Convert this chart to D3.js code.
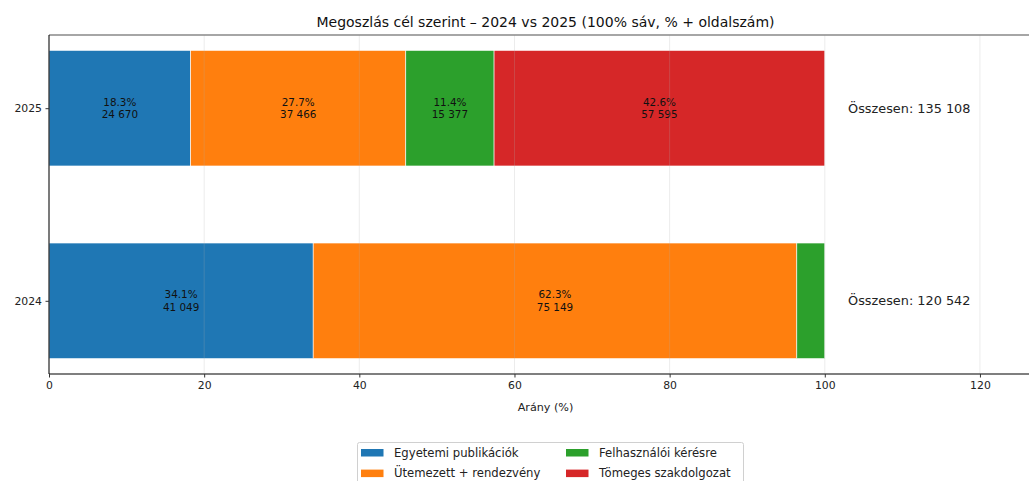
<!DOCTYPE html>
<html><head><meta charset="utf-8">
<script src="https://cdn.jsdelivr.net/npm/d3@7"></script>
<style>
body{margin:0;background:#fff;}
svg{font-family:"DejaVu Sans",sans-serif;display:block;}
</style></head>
<body><svg id="c" width="1029" height="481"></svg>
<script>
const years = ["2024", "2025"];
const seriesNames = ["Egyetemi publikációk", "Ütemezett + rendezvény", "Felhasználói kérésre", "Tömeges szakdolgozat"];
const colors = ["#1f77b4", "#ff7f0e", "#2ca02c", "#d62728"];
const egyetemi = [41049, 24670];
const utemezett = [75149, 37466];
const felhasznaloi = [4344, 15377];
const tomeges = [0, 57595];
const xTicks = [0, 20, 40, 60, 80, 100, 120];
const title = "Megoszlás cél szerint – 2024 vs 2025 (100% sáv, % + oldalszám)";
const xLabel = "Arány (%)";

const svg = d3.select("#c");
const L = 49, R = 1042, T = 35, B = 374;
const x = d3.scaleLinear().domain([0, 128]).range([L, R]);
const y = d3.scaleLinear().domain([-0.38, 1.38]).range([B, T]);
const barH = y(0) - y(0.6);
const fmt = n => d3.format(",")(n).replace(/,/g, " ");

const seriesVals = [egyetemi, utemezett, felhasznaloi, tomeges];
const totals = years.map((_, i) => d3.sum(seriesVals, s => s[i]));

// bars
years.forEach((yr, i) => {
  let acc = 0;
  seriesVals.forEach((s, k) => {
    const pct = s[i] / totals[i] * 100;
    if (pct <= 0) return;
    const x0 = acc, x1 = acc + pct;
    acc = x1;
    svg.append("rect")
      .attr("x", x(x0)).attr("width", x(x1) - x(x0))
      .attr("y", y(i) - barH / 2).attr("height", barH)
      .attr("fill", colors[k]).attr("stroke", "#fff").attr("stroke-width", 0.6);
    if (pct >= 5) {
      const cx = x((x0 + x1) / 2);
      const t = svg.append("text").attr("x", cx).attr("text-anchor", "middle")
        .attr("font-size", 10.4).attr("fill", "#111");
      t.append("tspan").attr("x", cx).attr("y", y(i) - 6.3).attr("dy", "0.35em").text(pct.toFixed(1) + "%");
      t.append("tspan").attr("x", cx).attr("y", y(i) + 6.3).attr("dy", "0.35em").text(fmt(s[i]));
    }
  });
  svg.append("text").attr("x", x(103)).attr("y", y(i)).attr("dy", "0.35em")
    .attr("font-size", 12.85).attr("fill", "#222").text("Összesen: " + fmt(totals[i]));
});

// grid on top
xTicks.forEach(t => {
  svg.append("line").attr("x1", x(t)).attr("x2", x(t)).attr("y1", T).attr("y2", B)
    .attr("stroke", "#b0b0b0").attr("stroke-opacity", 0.3).attr("stroke-width", 0.8);
});

// spines
svg.append("line").attr("x1", L).attr("x2", 1029).attr("y1", T).attr("y2", T).attr("stroke", "#888").attr("stroke-width", 1.4);
svg.append("line").attr("x1", L).attr("x2", 1029).attr("y1", B).attr("y2", B).attr("stroke", "#555").attr("stroke-width", 1.4);
svg.append("line").attr("x1", L).attr("x2", L).attr("y1", T).attr("y2", B).attr("stroke", "#000").attr("stroke-width", 1);

// x axis
const xa = svg.append("g").attr("transform", `translate(0,${B})`)
  .call(d3.axisBottom(x).tickValues(xTicks).tickSize(3.5).tickPadding(3.5).tickFormat(d3.format("d")));
xa.select(".domain").remove();
xa.selectAll("text").attr("font-size", 10.85).attr("fill", "#222").attr("font-family", "DejaVu Sans");
xa.selectAll("line").attr("stroke", "#333");

// y axis
const ya = svg.append("g").attr("transform", `translate(${L},0)`)
  .call(d3.axisLeft(y).tickValues([0, 1]).tickSize(3.5).tickPadding(3.5).tickFormat(d => years[d]));
ya.select(".domain").remove();
ya.selectAll("text").attr("font-size", 10.85).attr("fill", "#222").attr("font-family", "DejaVu Sans");
ya.selectAll("line").attr("stroke", "#333");

svg.append("text").attr("x", (L + R) / 2).attr("y", 407).attr("dy", "0.35em").attr("text-anchor", "middle")
  .attr("font-size", 11.2).attr("fill", "#222").text(xLabel);
svg.append("text").attr("x", (L + R) / 2).attr("y", 22.3).attr("dy", "0.35em").attr("text-anchor", "middle")
  .attr("font-size", 14).attr("fill", "#111").text(title);

// legend
const lg = svg.append("g");
lg.append("rect").attr("x", 357.5).attr("y", 442.5).attr("width", 386).attr("height", 45).attr("rx", 2)
  .attr("fill", "#fff").attr("stroke", "#d0d0d0").attr("stroke-width", 1);
const colX = [361, 566], rowY = [452.7, 473.3];
seriesNames.forEach((n, k) => {
  const c = k < 2 ? 0 : 1, r = k % 2;
  lg.append("rect").attr("x", colX[c]).attr("y", rowY[r] - 3.7).attr("width", 22.5).attr("height", 7.5).attr("fill", colors[k]);
  lg.append("text").attr("x", colX[c] + 33).attr("y", rowY[r]).attr("dy", "0.35em")
    .attr("font-size", 11.65).attr("fill", "#222").text(n);
});
</script></body></html>
